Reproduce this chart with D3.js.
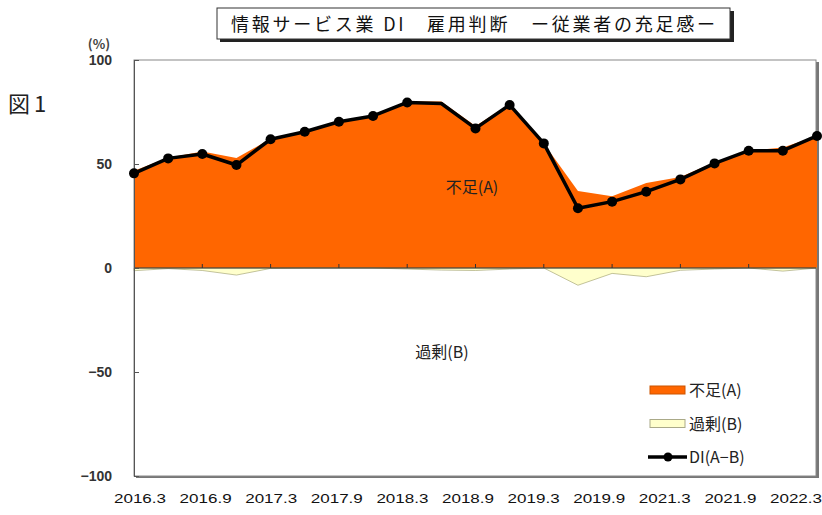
<!DOCTYPE html>
<html>
<head>
<meta charset="utf-8">
<script src="https://cdn.jsdelivr.net/npm/d3@7"></script>
<style>
  body { margin: 0; background: #fff; }
  text { font-family: "Noto Sans CJK JP", "Noto Sans", sans-serif; }
</style>
</head>
<body>
<script>
// quarterly survey points (2020 not surveyed)
const periods = ['2016.3', '2016.6', '2016.9', '2016.12', '2017.3', '2017.6', '2017.9', '2017.12',
    '2018.3', '2018.6', '2018.9', '2018.12', '2019.3', '2019.6', '2019.9', '2019.12',
    '2021.3', '2021.6', '2021.9', '2021.12', '2022.3']
const shortage = [46.8, 53.0, 56.0, 52.9, 62.1, 65.5, 70.3, 73.1, 80.1, 80.1, 68.3, 78.9, 59.9,
    37.0, 34.5, 40.9, 43.7, 50.8, 56.4, 57.9, 63.5]
const surplus = [1.3, 0.3, 1.2, 3.4, 0.2, 0, 0, 0, 0.5, 1.0, 1.2, 0.5, 0, 8.3, 2.6, 4.2, 1.1, 0.5, 0, 1.5, 0]
const di = [45.5, 52.7, 54.8, 49.5, 61.9, 65.5, 70.3, 73.1, 79.6, 79.1, 67.1, 78.4, 59.9, 28.7, 31.9,
    36.7, 42.6, 50.3, 56.4, 56.4, 63.5]
const noMarker = ['2018.6']
const xLabels = ['2016.3', '2016.9', '2017.3', '2017.9', '2018.3', '2018.9', '2019.3', '2019.9',
    '2021.3', '2021.9', '2022.3']
const yTicks = [-100, -50, 0, 50, 100]

const width = 822, height = 515
const svg = d3.select('body').append('svg')
    .attr('width', width)
    .attr('height', height)

const x = d3.scalePoint().domain(periods).range([134, 817])
const xl = d3.scalePoint().domain(xLabels).range([140, 796])
const y = d3.scaleLinear().domain([-100, 100]).range([476, 60])

// plot frame with a small shadow
svg.append('rect')
    .attr('x', 136).attr('y', 62)
    .attr('width', 683).attr('height', 416)
    .attr('fill', '#777')
svg.append('rect')
    .attr('x', 134).attr('y', 60)
    .attr('width', 682).attr('height', 416)
    .attr('fill', '#fff')
    .attr('stroke', '#888')

// shortage area (positive)
const areaA = d3.area()
    .x((d, i) => x(periods[i]))
    .y0(y(0))
    .y1(d => y(d))
svg.append('path')
    .datum(shortage)
    .attr('d', areaA)
    .attr('fill', '#ff6600')

// surplus area (drawn negative)
const areaB = d3.area()
    .x((d, i) => x(periods[i]))
    .y0(y(0))
    .y1(d => y(-d))
svg.append('path')
    .datum(surplus)
    .attr('d', areaB)
    .attr('fill', '#ffffcc')
    .attr('stroke', '#999966')
    .attr('stroke-width', 0.6)

// baseline and x ticks
svg.append('line')
    .attr('x1', 134).attr('x2', 816)
    .attr('y1', y(0)).attr('y2', y(0))
    .attr('stroke', '#333')
svg.selectAll('.xtick')
    .data(periods.filter((p, i) => i % 2 == 0 && i > 0 && i < periods.length - 1))
    .join('line')
    .attr('x1', d => x(d)).attr('x2', d => x(d))
    .attr('y1', y(0)).attr('y2', y(0) - 4)
    .attr('stroke', '#333')

// y axis
const yAxis = svg.append('g')
    .attr('transform', 'translate(134,0)')
    .call(d3.axisLeft(y).tickValues(yTicks).tickSize(-5).tickPadding(22).tickFormat(d3.format('d')))
yAxis.select('.domain').attr('stroke', '#555')
yAxis.selectAll('.tick line').attr('stroke', '#555')
yAxis.selectAll('text')
    .attr('font-size', 14)
    .attr('font-weight', 'bold')
    .attr('fill', '#333')
    .style('font-family', 'Arial, "Liberation Sans", sans-serif')

svg.append('text')
    .attr('x', 99).attr('y', 49)
    .attr('text-anchor', 'middle')
    .attr('font-size', 13)
    .attr('font-weight', 'bold')
    .attr('fill', '#444')
    .text('(%)')

// DI line
const line = d3.line()
    .x((d, i) => x(periods[i]))
    .y(d => y(d))
svg.append('path')
    .datum(di)
    .attr('d', line)
    .attr('fill', 'none')
    .attr('stroke', '#000')
    .attr('stroke-width', 3.5)
    .attr('stroke-linejoin', 'round')
svg.selectAll('.dot')
    .data(di.map((d, i) => ({ p: periods[i], v: d })).filter(d => !noMarker.includes(d.p)))
    .join('circle')
    .attr('cx', d => x(d.p))
    .attr('cy', d => y(d.v))
    .attr('r', 5)
    .attr('fill', '#000')

// x labels
svg.selectAll('.xlab')
    .data(xLabels)
    .join('text')
    .attr('x', d => xl(d))
    .attr('y', 503)
    .attr('text-anchor', 'middle')
    .attr('font-size', 12)
    .attr('fill', '#111')
    .attr('textLength', 52)
    .attr('lengthAdjust', 'spacingAndGlyphs')
    .style('font-family', 'Arial, "Liberation Sans", sans-serif')
    .text(d => d)

// area labels
svg.append('text')
    .attr('x', 472).attr('y', 193)
    .attr('text-anchor', 'middle')
    .attr('font-size', 16)
    .attr('fill', '#222')
    .text('不足(A)')
svg.append('text')
    .attr('x', 442).attr('y', 358)
    .attr('text-anchor', 'middle')
    .attr('font-size', 16)
    .attr('fill', '#222')
    .text('過剰(B)')

// legend
const legend = [
    { name: '不足(A)', type: 'area', fill: '#ff6600', stroke: '#cc5500' },
    { name: '過剰(B)', type: 'area', fill: '#ffffcc', stroke: '#aaa988' },
    { name: 'DI(A−B)', type: 'line' }
]
const lg = svg.append('g')
legend.forEach((d, i) => {
    const ly = 390 + i * 33.5
    if (d.type == 'area') {
        lg.append('rect')
            .attr('x', 650).attr('y', ly - 4)
            .attr('width', 35).attr('height', 8)
            .attr('fill', d.fill)
            .attr('stroke', d.stroke)
    } else {
        lg.append('line')
            .attr('x1', 648).attr('x2', 687)
            .attr('y1', ly).attr('y2', ly)
            .attr('stroke', '#000')
            .attr('stroke-width', 3.5)
        lg.append('circle')
            .attr('cx', 668).attr('cy', ly).attr('r', 4.5)
            .attr('fill', '#000')
    }
    lg.append('text')
        .attr('x', 689).attr('y', ly + 6)
        .attr('font-size', 16)
        .attr('fill', '#222')
        .text(d.name)
})

// title box
svg.append('rect')
    .attr('x', 220).attr('y', 11)
    .attr('width', 514).attr('height', 31)
    .attr('fill', '#222')
svg.append('rect')
    .attr('x', 217).attr('y', 8)
    .attr('width', 513).attr('height', 31)
    .attr('fill', '#fff')
    .attr('stroke', '#333')
svg.append('text')
    .attr('x', 473).attr('y', 31)
    .attr('text-anchor', 'middle')
    .attr('font-size', 18)
    .attr('fill', '#111')
    .attr('textLength', 484)
    .attr('lengthAdjust', 'spacing')
    .text('情報サービス業 DI　雇用判断　ー従業者の充足感ー')

svg.append('text')
    .attr('x', 8).attr('y', 112)
    .attr('font-size', 22)
    .attr('letter-spacing', 4)
    .attr('fill', '#222')
    .text('図1')
</script>
</body>
</html>
